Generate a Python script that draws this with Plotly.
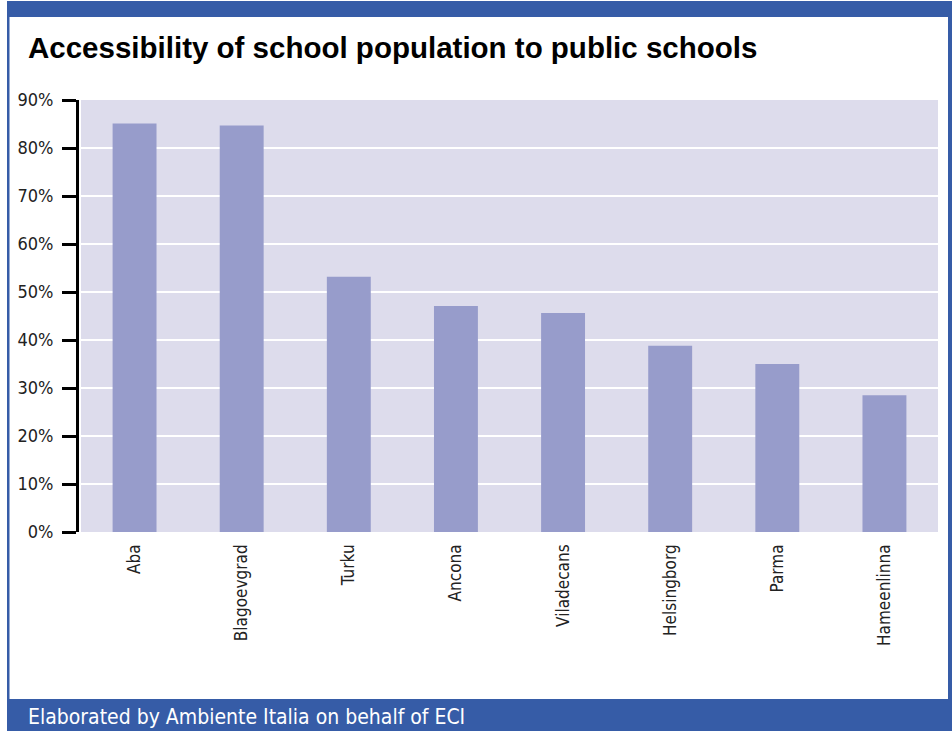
import plotly.graph_objects as go

cities = ["Aba", "Blagoevgrad", "Turku", "Ancona", "Viladecans", "Helsingborg", "Parma", "Hameenlinna"]
accessibility = [85.1, 84.7, 53.2, 47.1, 45.6, 38.8, 35.0, 28.5]
y_ticks = [0, 10, 20, 30, 40, 50, 60, 70, 80, 90]
y_tick_labels = [f"{v}%" for v in y_ticks]

W, H = 952, 731
L, R, T, B = 81, 938, 100, 532
BLUE = "#365CA7"
NARROW = "DejaVu Sans Condensed, Liberation Sans Narrow, Roboto, sans-serif"

def px(x):
    return (x - L) / (R - L)

def py(y):
    return (B - y) / (B - T)

fig = go.Figure(go.Bar(
    x=cities, y=accessibility, marker_color="#979CCB", width=0.41,
    marker_line_width=0, hoverinfo="x+y"))

shapes = [
    dict(type="rect", xref="paper", yref="paper", x0=px(7), x1=px(952), y0=py(1), y1=py(17),
         fillcolor=BLUE, line_width=0, layer="above"),
    dict(type="rect", xref="paper", yref="paper", x0=px(7), x1=px(9.5), y0=py(17), y1=py(699),
         fillcolor=BLUE, line_width=0, layer="above"),
    dict(type="rect", xref="paper", yref="paper", x0=px(948), x1=px(952), y0=py(17), y1=py(699),
         fillcolor=BLUE, line_width=0, layer="above"),
    dict(type="rect", xref="paper", yref="paper", x0=px(7), x1=px(952), y0=py(699), y1=py(731),
         fillcolor=BLUE, line_width=0, layer="above"),
]

annotations = [
    dict(text="<b>Accessibility of school population to public schools</b>", xref="paper", yref="paper",
         x=px(26), y=py(47), xanchor="left", yanchor="middle", showarrow=False,
         font=dict(family="Liberation Sans, Arial, sans-serif", size=29.5, color="black")),
    dict(text="Elaborated by Ambiente Italia on behalf of ECI", xref="paper", yref="paper",
         x=px(26), y=py(717), xanchor="left", yanchor="middle", showarrow=False,
         font=dict(family=NARROW, size=21, color="white")),
]

fig.update_layout(
    width=W, height=H,
    margin=dict(l=L, r=W - R, t=T, b=H - B, pad=0),
    paper_bgcolor="white", plot_bgcolor="#DDDCEC",
    showlegend=False, bargap=0.59,
    shapes=shapes, annotations=annotations,
    xaxis=dict(type="category", tickangle=-90, tickfont=dict(family=NARROW, size=17, color="#222"),
               showline=False, ticks="", showgrid=False, ticklabelstandoff=8, domain=[0, 1]),
    yaxis=dict(range=[0, 90], tickvals=y_ticks, ticktext=y_tick_labels,
               tickfont=dict(family=NARROW, size=18, color="#222"),
               showgrid=True, gridcolor="white", gridwidth=2,
               showline=True, linecolor="black", linewidth=3,
               ticks="outside", ticklen=14, tickwidth=3, tickcolor="black",
               ticklabelstandoff=5,
               anchor="free", position=0, shift=-4, zeroline=False),
)

fig.write_html("out.html", config={"displayModeBar": False})

with open("out.html", "r", encoding="utf-8") as f:
    html = f.read()
html = html.replace("<head>", "<head><style>html,body{margin:0;padding:0;overflow:hidden;}</style>", 1)
with open("out.html", "w", encoding="utf-8") as f:
    f.write(html)
